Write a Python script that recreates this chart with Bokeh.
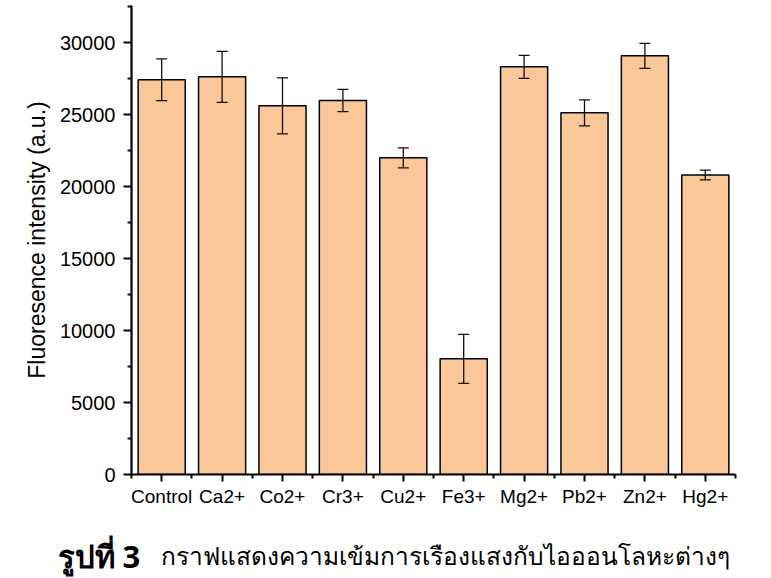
from bokeh.plotting import figure
from bokeh.models import ColumnDataSource, Whisker, FixedTicker, Range1d, Label, TeeHead
from bokeh.layouts import column
from bokeh.embed import file_html
from bokeh.resources import INLINE

categories = ["Control", "Ca2+", "Co2+", "Cr3+", "Cu2+", "Fe3+", "Mg2+", "Pb2+", "Zn2+", "Hg2+"]
intensity = [27410, 27615, 25600, 25970, 21990, 8030, 28310, 25115, 29075, 20800]
error = [1450, 1770, 1950, 770, 690, 1700, 800, 900, 870, 340]
y_ticks = [0, 5000, 10000, 15000, 20000, 25000, 30000]
caption_bold = "รูปที่ 3"
caption_rest = "กราฟแสดงความเข้มการเรืองแสงกับไอออนโลหะต่างๆ"
y_label = "Fluoresence intensity (a.u.)"

xs = [i + 0.5 for i in range(len(categories))]
src = ColumnDataSource(dict(
    x=xs, top=intensity,
    upper=[v + e for v, e in zip(intensity, error)],
    lower=[v - e for v, e in zip(intensity, error)],
))

W, H, CAP_H = 771, 518, 60
p = figure(width=W, height=H, output_backend="svg", toolbar_location=None,
           x_range=Range1d(0, len(categories)), y_range=Range1d(0, 32570),
           min_border_left=131, min_border_right=36, min_border_top=5, min_border_bottom=44)
p.outline_line_color = None
p.grid.visible = False
p.background_fill_color = "white"
p.frame_align = False

p.vbar(x="x", top="top", width=0.78, bottom=0, source=src,
       fill_color="#FAC898", line_color="black", line_width=1.5)

w = Whisker(base="x", upper="upper", lower="lower", source=src, level="overlay",
            line_color="#1a0a0a", line_width=1.3,
            upper_head=TeeHead(size=11, line_color="#1a0a0a", line_width=1.3),
            lower_head=TeeHead(size=11, line_color="#1a0a0a", line_width=1.3))
p.add_layout(w)

font = "Liberation Sans"
ya = p.yaxis[0]
ya.ticker = FixedTicker(ticks=y_ticks, minor_ticks=[v + 2500 for v in y_ticks])
ya.axis_line_width = 2.2
ya.major_tick_line_width = 2
ya.minor_tick_line_width = 2
ya.major_tick_out = 8
ya.major_tick_in = 0
ya.minor_tick_out = 4
ya.minor_tick_in = 0
ya.major_label_text_font = font
ya.major_label_text_font_size = "20px"
ya.major_label_text_color = "black"
ya.major_label_standoff = 8
ya.axis_label = y_label
ya.axis_label_text_font = font
ya.axis_label_text_font_size = "23px"
ya.axis_label_text_font_style = "normal"
ya.axis_label_text_color = "black"
ya.axis_label_standoff = 7

xa = p.xaxis[0]
xa.ticker = FixedTicker(ticks=xs, minor_ticks=list(range(len(categories) + 1)))
xa.major_label_overrides = {x: c for x, c in zip(xs, categories)}
xa.axis_line_width = 2.2
xa.major_tick_line_width = 2
xa.minor_tick_line_width = 2
xa.major_tick_out = 7
xa.major_tick_in = 0
xa.minor_tick_out = 4
xa.minor_tick_in = 0
xa.major_label_text_font = font
xa.major_label_text_font_size = "19px"
xa.major_label_text_color = "black"
xa.major_label_standoff = 4

cap = figure(width=W, height=CAP_H, output_backend="svg", toolbar_location=None,
             x_range=Range1d(0, W), y_range=Range1d(0, CAP_H),
             x_axis_type=None, y_axis_type=None,
             min_border_left=0, min_border_right=0, min_border_top=0, min_border_bottom=0)
cap.outline_line_color = None
cap.grid.visible = False
cap.frame_align = False
cap.add_layout(Label(x=57, y=23, text=caption_bold, text_baseline="alphabetic",
                     text_font="Noto Sans", text_font_size="31px", text_font_style="bold",
                     text_color="black"))
cap.add_layout(Label(x=160, y=23, text=caption_rest, text_baseline="alphabetic",
                     text_font="Noto Sans", text_font_size="24.5px", text_color="black"))

open("out.html", "w").write(file_html(column(p, cap), INLINE))
